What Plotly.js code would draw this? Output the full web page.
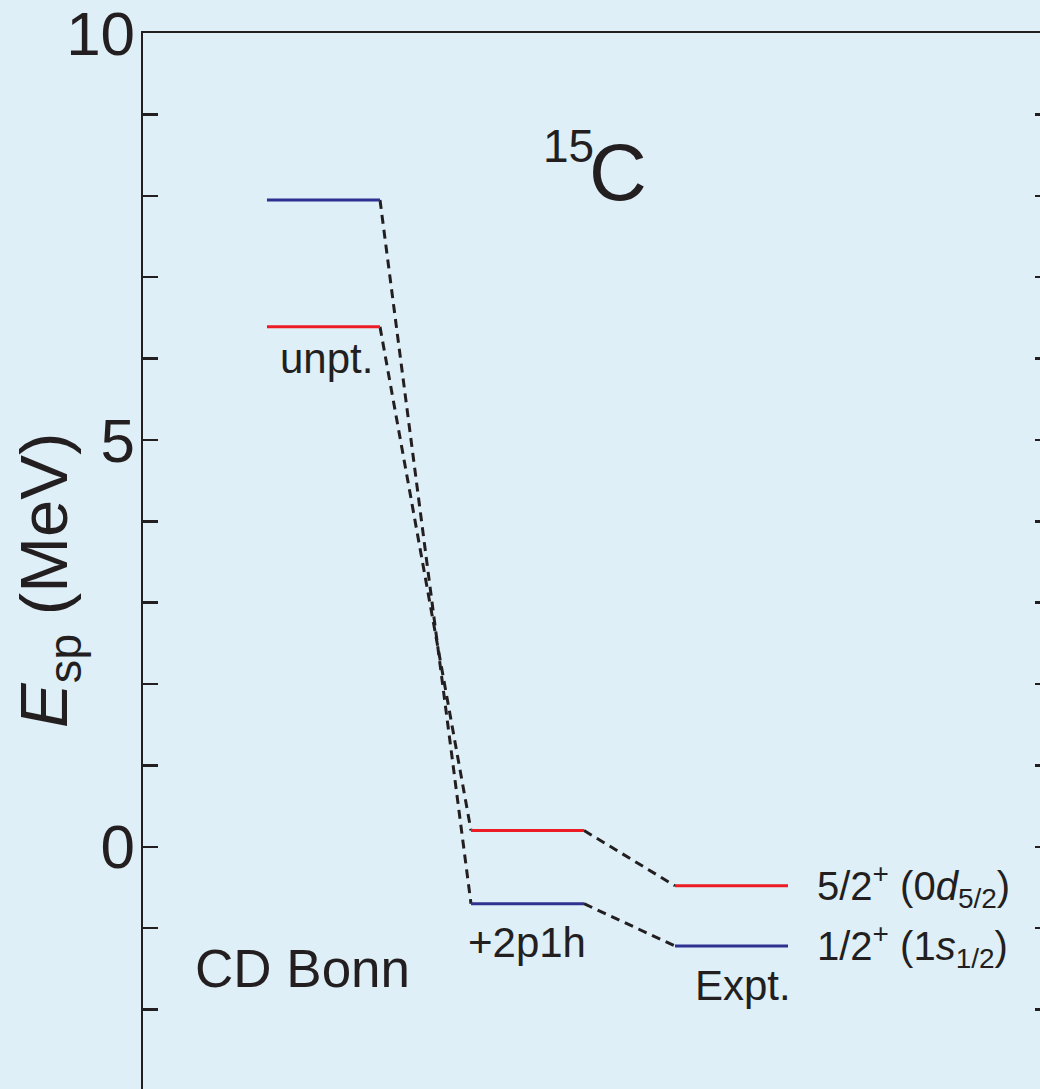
<!DOCTYPE html>
<html><head><meta charset="utf-8">
<script src="https://cdn.plot.ly/plotly-3.0.1.min.js"></script>
<style>html,body{margin:0;padding:0;overflow:hidden;background:#dfeff7;}#chart{width:1050px;height:1091px;}</style>
</head><body><div id="chart"></div>
<script>
// Data
const columns = ['unpt.', '+2p1h', 'Expt.'];
const levelLabels = ['5/2<sup>+</sup> (0<i>d</i><sub>5/2</sub>)', '1/2<sup>+</sup> (1<i>s</i><sub>1/2</sub>)'];
const e52 = [6.39, 0.20, -0.48];   // 5/2+ (0d5/2) levels, MeV
const e12 = [7.95, -0.70, -1.22];  // 1/2+ (1s1/2) levels, MeV
const yTickVals = [0, 5, 10];
const yTickText = ['0', '5', '10'];
const nucleus = {mass: '15', symbol: 'C'};
const modelName = 'CD Bonn';
const yTitle = '<i>E</i><sub>sp</sub> (MeV)';

// Styles / geometry
const HW = 0.277;          // half width of a level bar (column units)
const RED = '#ed1c24', BLUE = '#2e3192', INK = '#231f20';
const FONT = '"Liberation Sans", Arial, Helvetica, sans-serif';
// pixel helpers for text placement
const px2x = p => 1 + (p - 323.5) / 204;
const px2y = p => (847 - p) / 81.4;

function levelTrace(vals, color) {
  const x = [], y = [];
  vals.forEach((v, i) => { x.push(i + 1 - HW, i + 1 + HW, null); y.push(v, v, null); });
  return {x, y, mode: 'lines', line: {color, width: 3}, hoverinfo: 'skip', showlegend: false};
}
function connTrace(vals) {
  const x = [], y = [];
  for (let i = 0; i < vals.length - 1; i++) {
    x.push(i + 1 + HW, i + 2 - HW, null); y.push(vals[i], vals[i + 1], null);
  }
  return {x, y, mode: 'lines', line: {color: INK, width: 3, dash: '9px,6px'}, hoverinfo: 'skip', showlegend: false};
}

const traces = [connTrace(e12), connTrace(e52), levelTrace(e52, RED), levelTrace(e12, BLUE)];

const colLabelPos = [[326, 358], [527, 943], [743, 986]];
const annotations = [];
columns.forEach((c, i) => {
  annotations.push({x: px2x(colLabelPos[i][0]), y: px2y(colLabelPos[i][1]), text: c, showarrow: false,
    xanchor: 'center', yanchor: 'middle', font: {family: FONT, size: 42, color: INK}});
});
const last = columns.length - 1;
annotations.push({x: px2x(815), y: e52[last], text: levelLabels[0], showarrow: false, xanchor: 'left', yanchor: 'middle',
  font: {family: FONT, size: 40, color: INK}});
annotations.push({x: px2x(815), y: e12[last], text: levelLabels[1], showarrow: false, xanchor: 'left', yanchor: 'middle',
  font: {family: FONT, size: 40, color: INK}});
annotations.push({x: px2x(302), y: px2y(969), text: modelName, showarrow: false, xanchor: 'center', yanchor: 'middle',
  font: {family: FONT, size: 53, color: INK}});
annotations.push({x: px2x(568), y: px2y(146), text: nucleus.mass, showarrow: false, xanchor: 'center', yanchor: 'middle',
  font: {family: FONT, size: 46, color: INK}});
annotations.push({x: px2x(618), y: px2y(172), text: nucleus.symbol, showarrow: false, xanchor: 'center', yanchor: 'middle',
  font: {family: FONT, size: 80, color: INK}});
annotations.push({xref: 'paper', yref: 'paper', x: (48 - 143) / 907, y: (1091 - 581) / 1058, text: yTitle, showarrow: false,
  textangle: -90, xanchor: 'center', yanchor: 'middle', font: {family: FONT, size: 67, color: INK}});

const layout = {
  width: 1050, height: 1091,
  margin: {l: 143, r: 0, t: 33, b: 0, pad: 0},
  paper_bgcolor: '#dfeff7', plot_bgcolor: '#dfeff7',
  showlegend: false,
  xaxis: {range: [px2x(143), px2x(1050)], showgrid: false, zeroline: false, showticklabels: false, ticks: '',
    showline: true, mirror: true, linecolor: INK, linewidth: 2.5, fixedrange: true},
  yaxis: {range: [-3.002, 10.002], showgrid: false, zeroline: false, tickmode: 'array', tickvals: yTickVals, ticktext: yTickText,
    ticks: 'inside', ticklen: 15, tickwidth: 2.5, tickcolor: INK, showline: true, mirror: 'ticks', linecolor: INK, linewidth: 2.5,
    minor: {dtick: 1, tick0: 0, ticks: 'inside', ticklen: 15, tickwidth: 2.5, tickcolor: INK, showgrid: false},
    tickfont: {family: FONT, size: 62, color: INK}, ticklabelstandoff: -7, ticklabeloverflow: 'allow', fixedrange: true},
  annotations
};
Plotly.newPlot('chart', traces, layout, {displayModeBar: false, staticPlot: true});
</script></body></html>
